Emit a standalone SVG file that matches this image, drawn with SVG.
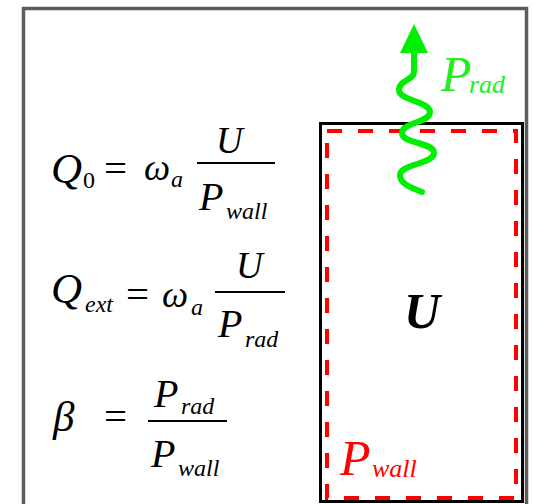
<svg xmlns="http://www.w3.org/2000/svg" width="533" height="504" viewBox="0 0 533 504">
<style>
.m{font-family:"Liberation Serif","Times New Roman",serif;font-style:italic;fill:#000}
.r{font-family:"Liberation Serif","Times New Roman",serif;fill:#000}
.big{font-size:37px}
.p{font-size:40px}
.q{font-size:43px}
.eq{font-size:41px}
.sub{font-size:24px}
.fl{stroke:#000;stroke-width:1.8}
</style>
<rect x="0" y="0" width="533" height="504" fill="#fff"/>
<g id="frame"><rect x="23.5" y="8.5" width="503" height="510" fill="none" stroke="#5c5c5c" stroke-width="3.5"/></g>
<g id="cavity">
<rect x="320.5" y="123.5" width="202" height="378" fill="#fff" stroke="#000" stroke-width="3"/>
<rect x="327" y="131" width="189" height="367" fill="none" stroke="#ff0000" stroke-width="4" stroke-dasharray="15 16"/>
<text x="404" y="328" style="font-family:'Liberation Serif',serif;font-style:italic;font-weight:bold;font-size:50px" fill="#000">U</text>
<text x="340" y="475" style="font-family:'Liberation Serif',serif;font-style:italic;font-size:50px" fill="#ff0000">P<tspan x="372" y="477" style="font-size:26px">wall</tspan></text>
</g>
<g id="connectors">
<path d="M 422 192 C 406 186 400 182 400 175 C 400 164 434 164 434 153 C 434 142 402 144 402 133 C 402 122 430 123 430 112 C 430 101 399 101 399 90 C 399 80 414 80 414 72 L 414 50" fill="none" stroke="#00ee00" stroke-width="6" stroke-linecap="round" stroke-linejoin="round"/>
<polygon points="414,24 400,53 428,53" fill="#00ee00"/>
</g>
<g id="prad-label"><text x="441" y="91" style="font-family:'Liberation Serif',serif;font-style:italic;font-size:50px" fill="#22ee22">P<tspan x="469" y="93" style="font-size:26px">rad</tspan></text></g>
<g id="eq1">
<text class="m q" x="51" y="183">Q</text><text class="r sub" x="83" y="188">0</text>
<text class="r eq" x="104" y="182">=</text>
<text class="m big" x="144" y="180">ω</text><text class="m sub" x="171" y="187">a</text>
<text class="m big" x="216" y="153">U</text>
<line class="fl" x1="197" y1="163" x2="275" y2="163"/>
<text class="m p" x="199" y="210">P</text><text class="m sub" x="226" y="219">wall</text>
</g>
<g id="eq2">
<text class="m q" x="51" y="303">Q</text><text class="m sub" x="85" y="312">ext</text>
<text class="r eq" x="126" y="308">=</text>
<text class="m big" x="162" y="307">ω</text><text class="m sub" x="191" y="315">a</text>
<text class="m big" x="236" y="278">U</text>
<line class="fl" x1="215" y1="292" x2="285" y2="292"/>
<text class="m p" x="218" y="337">P</text><text class="m sub" x="245" y="347">rad</text>
</g>
<g id="eq3">
<text class="m q" x="53" y="431">β</text>
<text class="r eq" x="104" y="430">=</text>
<text class="m p" x="154" y="407">P</text><text class="m sub" x="181" y="414">rad</text>
<line class="fl" x1="148" y1="421" x2="227" y2="421"/>
<text class="m p" x="151" y="467">P</text><text class="m sub" x="178" y="476">wall</text>
</g>
</svg>
